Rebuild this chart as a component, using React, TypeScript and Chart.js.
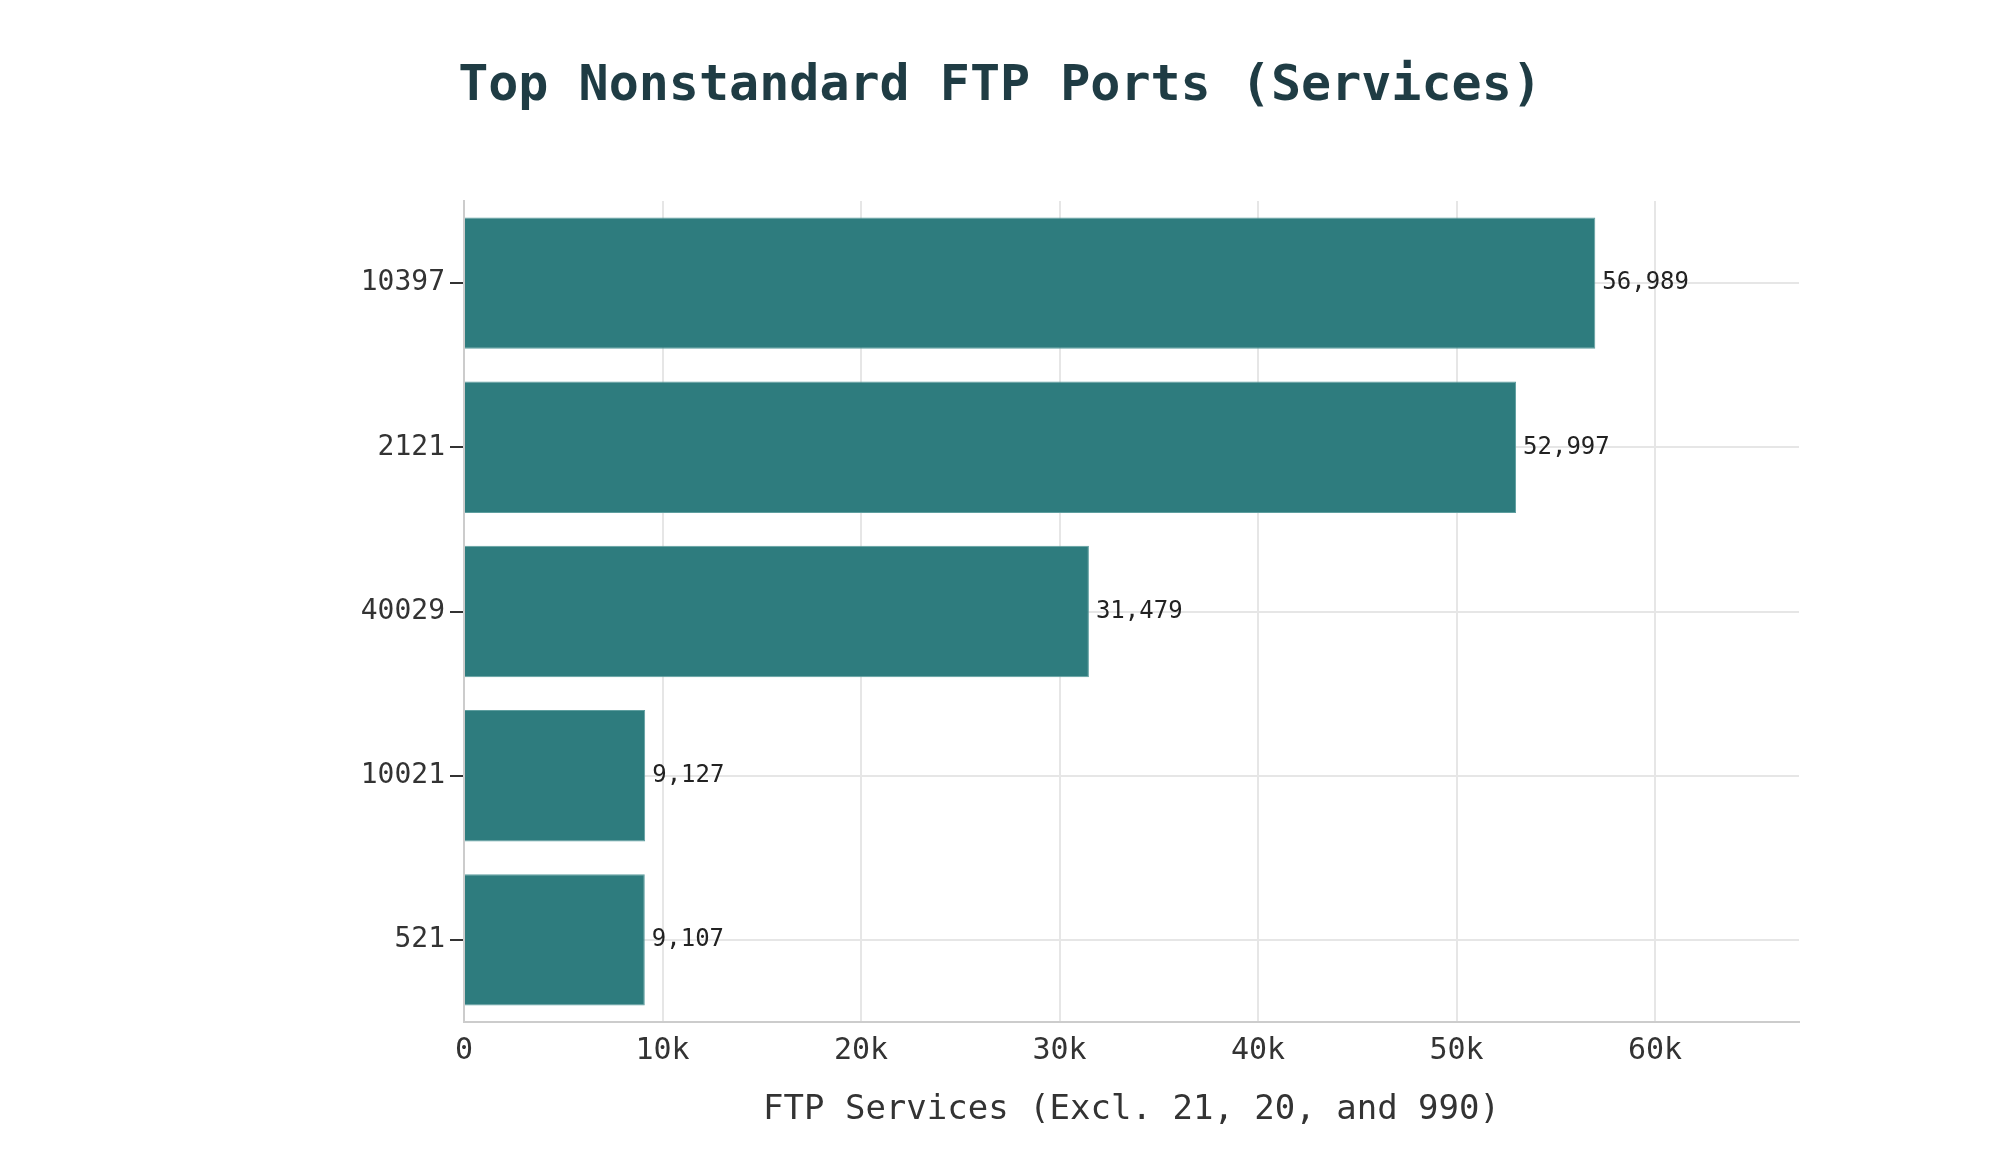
import React, { useEffect, useRef } from "react";
import { Chart, registerables } from "chart.js";

Chart.register(...registerables);

const categories = ["10397", "2121", "40029", "10021", "521"];
const services = [56989, 52997, 31479, 9127, 9107];
const xTickValues = [0, 10000, 20000, 30000, 40000, 50000, 60000];
const xMax = 67250;

const FONT = "'DejaVu Sans Mono', monospace";

const valueLabels = {
  id: "valueLabels",
  afterDatasetsDraw(chart: any) {
    const ctx = chart.ctx;
    const meta = chart.getDatasetMeta(0);
    ctx.save();
    ctx.font = `24px ${FONT}`;
    ctx.fillStyle = "#222222";
    ctx.textAlign = "left";
    ctx.textBaseline = "middle";
    meta.data.forEach((el: any, i: number) => {
      const v = chart.data.datasets[0].data[i] as number;
      ctx.fillText(v.toLocaleString("en-US"), el.x + 7, el.y);
    });
    ctx.restore();
  },
};

export default function App() {
  const ref = useRef<HTMLCanvasElement>(null);
  useEffect(() => {
    document.body.style.margin = "0";
    const chart = new Chart(ref.current!, {
      type: "bar",
      data: {
        labels: categories,
        datasets: [
          {
            data: services,
            backgroundColor: "#2E7C7E",
            borderColor: "#5E9E9F",
            borderWidth: 1,
            categoryPercentage: 0.8,
            barPercentage: 1,
          },
        ],
      },
      plugins: [valueLabels],
      options: {
        indexAxis: "y",
        responsive: false,
        animation: false,
        devicePixelRatio: 1,
        layout: { padding: { left: 0, right: 0, top: 0, bottom: 0 } },
        plugins: {
          legend: { display: false },
          tooltip: { enabled: false },
          title: {
            display: true,
            text: "Top Nonstandard FTP Ports (Services)",
            color: "#1F3C44",
            font: { family: FONT, size: 50, weight: "bold", lineHeight: 1.2 },
            padding: { top: 57, bottom: 84 },
          },
        },
        scales: {
          x: {
            type: "linear",
            min: 0,
            max: xMax,
            afterBuildTicks: (scale: any) => {
              scale.ticks = xTickValues.map((v) => ({ value: v }));
            },
            afterFit: (scale: any) => {
              scale.height = 138;
            },
            ticks: {
              color: "#333333",
              font: { family: FONT, size: 30 },
              padding: 11,
              maxRotation: 0,
              callback: (v: any) => (v === 0 ? "0" : `${v / 1000}k`),
            },
            grid: {
              color: "#E6E6E6",
              lineWidth: 2,
              drawTicks: false,
            },
            border: { display: true, color: "#CCCCCC", width: 2 },
            title: {
              display: true,
              text: "FTP Services (Excl. 21, 20, and 990)",
              color: "#333333",
              font: { family: FONT, size: 34, lineHeight: 1.2 },
              padding: { top: 0, bottom: 29 },
            },
          },
          y: {
            type: "category",
            afterFit: (scale: any) => {
              scale.width = 464;
            },
            ticks: {
              color: "#333333",
              font: { family: FONT, size: 28 },
              padding: 5,
            },
            grid: {
              offset: false,
              color: "#E6E6E6",
              lineWidth: 2,
              drawTicks: true,
              tickLength: 14,
              tickColor: "#333333",
            },
            border: { display: true, color: "#CCCCCC", width: 2 },
          },
          spacer: {
            type: "category",
            position: "right",
            labels: categories,
            afterFit: (scale: any) => {
              scale.width = 201;
            },
            ticks: { display: false },
            grid: { display: false, drawTicks: false },
            border: { display: false },
          },
        },
      },
    } as any);
    return () => chart.destroy();
  }, []);
  return (
    <div style={{ position: "fixed", left: 0, top: 0, width: 2000, height: 1160, background: "#fff" }}>
      <canvas ref={ref} width={2000} height={1160} style={{ width: 2000, height: 1160 }} />
    </div>
  );
}
